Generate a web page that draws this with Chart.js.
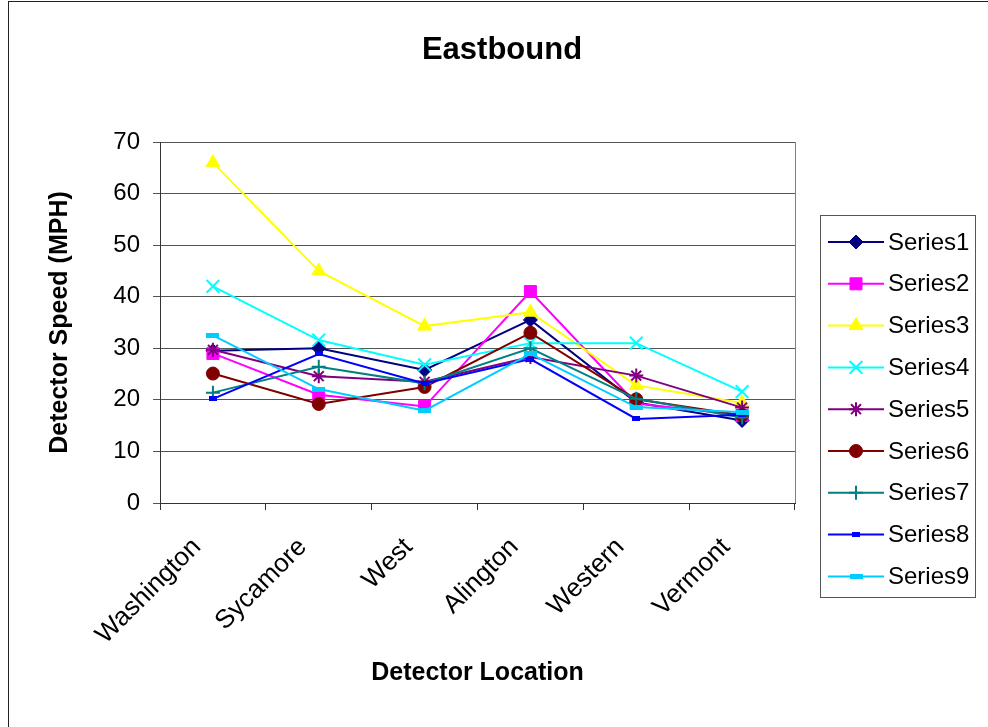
<!DOCTYPE html>
<html>
<head>
<meta charset="utf-8">
<title>Eastbound</title>
<script src="https://cdn.jsdelivr.net/npm/chart.js@4/dist/chart.umd.min.js"></script>
<style>
  html, body { margin: 0; padding: 0; background: #fff; overflow: hidden; }
  canvas { display: block; }
</style>
</head>
<body>
<canvas id="chart" width="988" height="727"></canvas>
<script>
// Detector locations along the eastbound corridor
const locations = ['Washington', 'Sycamore', 'West', 'Alington', 'Western', 'Vermont'];

// Detector speeds (MPH) per series
const series1 = [29.5, 30.0, 25.8, 35.5, 19.5, 16.0];
const series2 = [29.0, 21.0, 18.7, 41.0, 19.3, 17.0];
const series3 = [66.0, 45.0, 34.3, 37.0, 22.8, 19.4];
const series4 = [42.0, 31.6, 26.8, 31.0, 31.0, 21.6];
const series5 = [29.7, 24.6, 23.5, 28.3, 24.7, 18.5];
const series6 = [25.1, 19.2, 22.5, 33.0, 20.1, 17.0];
const series7 = [21.4, 26.4, 23.2, 30.0, 20.2, 16.6];
const series8 = [20.2, 28.9, 23.2, 27.9, 16.3, 17.1];
const series9 = [32.5, 22.1, 17.9, 28.9, 18.6, 17.6];

const seriesNames = ['Series1', 'Series2', 'Series3', 'Series4', 'Series5',
                     'Series6', 'Series7', 'Series8', 'Series9'];
const seriesValues = [series1, series2, series3, series4, series5,
                      series6, series7, series8, series9];

// Speed axis range and step
const yMin = 0, yMax = 70, yStep = 10;

const FONT = '"Liberation Sans", Arial, Helvetica, sans-serif';

// Flat bar markers for the last two series
function barMarker(w, h, color) {
  const c = document.createElement('canvas');
  c.width = w; c.height = h;
  const g = c.getContext('2d');
  g.fillStyle = color;
  g.fillRect(0, 0, w, h);
  return c;
}

const styles = [
  { color: '#000080', pointStyle: 'rectRot',  radius: 7,   fill: '#000080', bw: 1 },
  { color: '#FF00FF', pointStyle: 'rect',     radius: 8.5, fill: '#FF00FF', bw: 1 },
  { color: '#FFFF00', pointStyle: 'triangle', radius: 8,   fill: '#FFFF00', bw: 1 },
  { color: '#00FFFF', pointStyle: 'crossRot', radius: 9,   fill: '#00FFFF', bw: 2 },
  { color: '#800080', pointStyle: 'star',     radius: 7,   fill: '#800080', bw: 2 },
  { color: '#800000', pointStyle: 'circle',   radius: 6.5, fill: '#800000', bw: 1 },
  { color: '#008080', pointStyle: 'cross',    radius: 7,   fill: '#008080', bw: 2 },
  { color: '#0000FF', pointStyle: barMarker(8, 5, '#0000FF'),  radius: 4, fill: '#0000FF', bw: 0 },
  { color: '#00CCFF', pointStyle: barMarker(13, 5, '#00CCFF'), radius: 6, fill: '#00CCFF', bw: 0 }
];

const datasets = seriesNames.map((name, i) => ({
  label: name,
  data: seriesValues[i],
  borderColor: styles[i].color,
  backgroundColor: styles[i].fill,
  borderWidth: 2,
  tension: 0,
  pointStyle: styles[i].pointStyle,
  pointRadius: styles[i].radius,
  pointHoverRadius: styles[i].radius,
  pointBackgroundColor: styles[i].fill,
  pointBorderColor: styles[i].color,
  pointBorderWidth: styles[i].bw,
  // later series paint over earlier ones
  order: seriesNames.length - i
}));

// White page, outer frame and right edge of the plot area
const frame = {
  id: 'frame',
  beforeDraw(chart) {
    const ctx = chart.ctx;
    const a = chart.chartArea;
    ctx.save();
    ctx.fillStyle = '#fff';
    ctx.fillRect(0, 0, chart.width, chart.height);
    ctx.strokeStyle = '#222';
    ctx.lineWidth = 1;
    ctx.strokeRect(8.5, 1.5, 1200, 1200);
    ctx.strokeStyle = '#808080';
    ctx.beginPath();
    ctx.moveTo(Math.round(a.right) + 0.5, a.top);
    ctx.lineTo(Math.round(a.right) + 0.5, a.bottom);
    ctx.stroke();
    ctx.restore();
  }
};

// Chart heading
const heading = {
  id: 'heading',
  afterDraw(chart) {
    const ctx = chart.ctx;
    ctx.save();
    ctx.fillStyle = '#000';
    ctx.font = 'bold 31px ' + FONT;
    ctx.textAlign = 'center';
    ctx.textBaseline = 'middle';
    ctx.fillText('Eastbound', 502, 50);
    ctx.restore();
  }
};

// Boxed legend with line + marker samples
const boxedLegend = {
  id: 'boxedLegend',
  afterDraw(chart) {
    const ctx = chart.ctx;
    ctx.save();
    ctx.fillStyle = '#fff';
    ctx.fillRect(820, 215, 155, 382);
    ctx.strokeStyle = '#555';
    ctx.lineWidth = 1;
    ctx.strokeRect(820.5, 215.5, 155, 382);
    chart.data.datasets.forEach((ds, i) => {
      const y = 242 + i * 41.8;
      ctx.strokeStyle = ds.borderColor;
      ctx.lineWidth = 2;
      ctx.beginPath();
      ctx.moveTo(828, y);
      ctx.lineTo(884, y);
      ctx.stroke();
      ctx.fillStyle = ds.pointBackgroundColor;
      ctx.strokeStyle = ds.pointBorderColor;
      ctx.lineWidth = ds.pointBorderWidth;
      if (Chart.helpers && Chart.helpers.drawPoint) {
        Chart.helpers.drawPoint(ctx, {
          pointStyle: ds.pointStyle,
          radius: ds.pointRadius,
          rotation: 0,
          borderWidth: ds.pointBorderWidth
        }, 856, y);
      }
      ctx.fillStyle = '#000';
      ctx.font = '24px ' + FONT;
      ctx.textAlign = 'left';
      ctx.textBaseline = 'middle';
      ctx.fillText(ds.label, 888, y + 1);
    });
    ctx.restore();
  }
};

new Chart(document.getElementById('chart'), {
  type: 'line',
  data: { labels: locations, datasets: datasets },
  plugins: [frame, heading, boxedLegend],
  options: {
    responsive: false,
    animation: false,
    devicePixelRatio: 1,
    layout: { padding: { left: 0, top: 142, right: 193, bottom: 0 } },
    plugins: {
      legend: { display: false },
      title: { display: false },
      tooltip: { enabled: false }
    },
    scales: {
      x: {
        type: 'category',
        offset: true,
        afterFit(scale) { scale.height = 224; },
        grid: {
          display: true,
          drawOnChartArea: false,
          drawTicks: true,
          offset: true,
          tickLength: 7,
          color: '#333'
        },
        border: { display: true, color: '#333', width: 1 },
        ticks: {
          color: '#000',
          font: { family: FONT, size: 26 },
          minRotation: 45,
          maxRotation: 45,
          padding: 22,
          labelOffset: -16,
          autoSkip: false
        },
        title: {
          display: true,
          text: 'Detector Location',
          color: '#000',
          font: { family: FONT, size: 25, weight: 'bold' },
          padding: { top: 0, bottom: 39 }
        }
      },
      y: {
        min: yMin,
        max: yMax,
        afterFit(scale) { scale.width = 160; },
        grid: {
          color: '#555',
          lineWidth: 1,
          tickLength: 7,
          drawTicks: true
        },
        border: { display: true, color: '#333', width: 1 },
        ticks: {
          stepSize: yStep,
          color: '#000',
          font: { family: FONT, size: 24 },
          padding: 13
        },
        title: {
          display: true,
          text: 'Detector Speed (MPH)',
          color: '#000',
          font: { family: FONT, size: 25, weight: 'bold' },
          padding: { top: 45, bottom: 0 }
        }
      }
    }
  }
});
</script>
</body>
</html>
